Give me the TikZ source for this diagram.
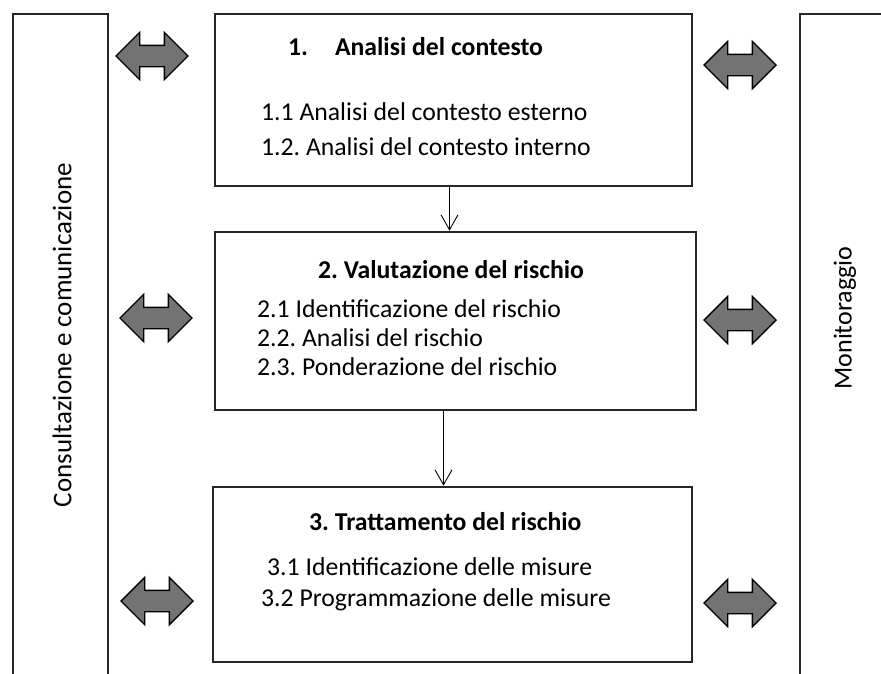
\documentclass[tikz,border=0pt]{standalone}
\usepackage{fontspec}
\setmainfont{Carlito}
\usetikzlibrary{shapes.arrows,arrows.meta}
\frenchspacing

\begin{document}
\begin{tikzpicture}[x=1pt,y=-1pt,
  phase/.style={draw=black!85, line width=2.6pt, minimum width=477pt, minimum height=172pt, inner sep=0pt},
  riga/.style={anchor=west, inner sep=0pt, font=\fontsize{25.7}{30}\selectfont},
  titolo/.style={anchor=west, inner sep=0pt, font=\fontsize{25.7}{30}\selectfont\bfseries},
  lato/.style={rotate=90, inner sep=0pt, font=\fontsize{27}{30}\selectfont},
  scambio/.style={double arrow, draw=black, line width=1.4pt, fill=black!55, inner sep=10pt,
    double arrow head extend=13pt, minimum height=72pt},
  passo/.style={-{Straight Barb[length=15pt,width=17pt]}, line width=0.9pt}]
\useasboundingbox (0,0) rectangle (881,673);
\draw[draw=black!85, line width=2.6pt] (13,690) -- (13,14) -- (108,14) -- (108,690);
\draw[draw=black!85, line width=2.6pt] (800,690) -- (800,14) -- (900,14);
\node[lato](cons) at (62,335){Consultazione e comunicazione};
\node[lato, font=\fontsize{26}{30}\selectfont](moni) at (845,318){Monitoraggio};
\node[phase](b1) at (453.5,100){};
\node[phase, minimum width=481pt, minimum height=178pt](b2) at (455.5,321){};
\node[phase, minimum width=479pt, minimum height=175pt](b3) at (452.5,574.5){};
\node[titolo](t1) at (288,47){1.\hspace{27pt}Analisi del contesto};
\node[riga](l11) at (261,112){1.1 Analisi del contesto esterno};
\node[riga](l12) at (261,147){1.2. Analisi del contesto interno};
\node[titolo](t2) at (318,270){2. Valutazione del rischio};
\node[riga](l21) at (257,309){2.1 Identificazione del rischio};
\node[riga](l22) at (257,338){2.2. Analisi del rischio};
\node[riga](l23) at (257,367){2.3. Ponderazione del rischio};
\node[titolo](t3) at (309,522){3. Trattamento del rischio};
\node[riga](l31) at (267,567){3.1 Identificazione delle misure};
\node[riga](l32) at (261,600){3.2 Programmazione delle misure};
\node[scambio](sx1) at (152,56){};
\node[scambio](sx2) at (156,318){};
\node[scambio](sx3) at (157,601){};
\node[scambio](dx1) at (740,65){};
\node[scambio](dx2) at (740,320){};
\node[scambio](dx3) at (740,603){};
\draw[passo] ([xshift=-4pt]b1.south) -- ([xshift=-4pt]b1.south |- b2.north);
\draw[passo] ([xshift=-12pt]b2.south) -- ([xshift=-12pt]b2.south |- b3.north);
\end{tikzpicture}
\end{document}
